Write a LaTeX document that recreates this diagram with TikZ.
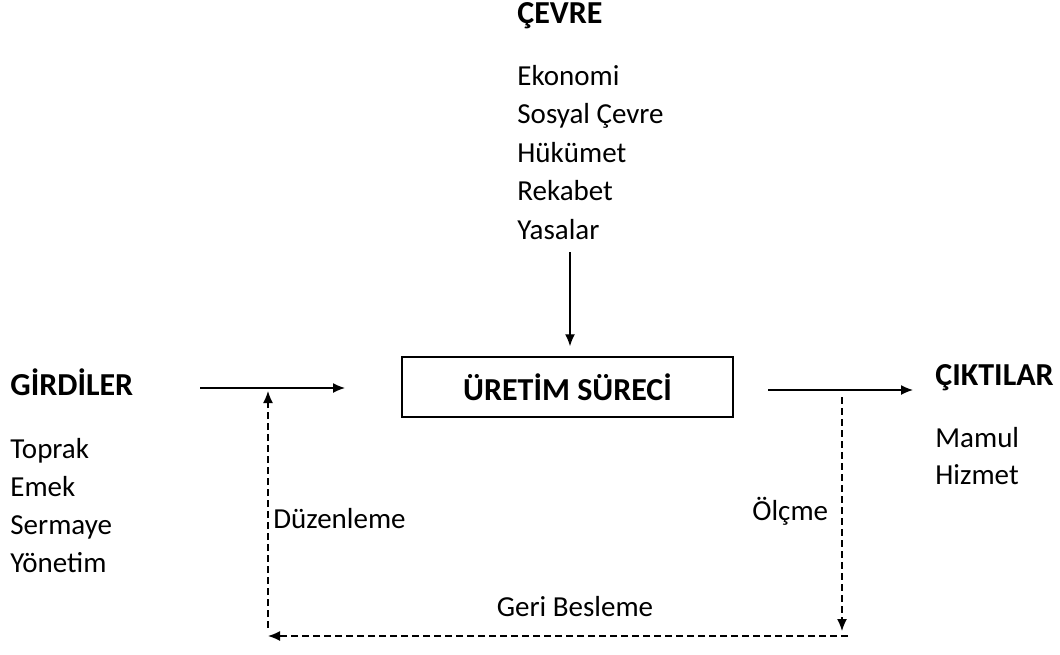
\documentclass[tikz,border=0pt]{standalone}
\usepackage{fontspec}
\setmainfont{Carlito}
\usetikzlibrary{arrows.meta}
\usetikzlibrary{positioning}

\tikzset{
  item/.style={anchor=base west,inner sep=0pt,font=\fontsize{14.5}{17}\selectfont},
  head/.style={anchor=base west,inner sep=0pt,font=\fontsize{16}{19}\selectfont\bfseries},
  process/.style={rectangle,draw=black,line width=0.75pt,minimum width=165.5pt,minimum height=30pt,font=\fontsize{16}{19}\selectfont\bfseries},
  flow/.style={-{Latex[length=6pt,width=5pt]},line width=0.7pt},
  feedback/.style={-{Latex[length=6pt,width=5pt]},line width=0.7pt,dash pattern=on 3.5pt off 2pt},
}

\begin{document}
\begin{tikzpicture}[x=0.5pt,y=-0.5pt]
\useasboundingbox (0,0) rectangle (1060,654);
% cevre
\node[head] at (517,23)(cevre){ÇEVRE};
\foreach \t [count=\i] in {Ekonomi,Sosyal Çevre,Hükümet,Rekabet,Yasalar}
  \node[item] at (517,46.5+38.5*\i)(cevre\i){\t};
% girdiler
\node[head] at (10,395)(girdiler){GİRDİLER};
\foreach \t [count=\i] in {Toprak,Emek,Sermaye,Yönetim}
  \node[item] at (10,419.7+38.3*\i)(girdi\i){\t};
% ciktilar
\node[head] at (935,385)(ciktilar){ÇIKTILAR};
\node[item] at (935,447)(cikti1){Mamul};
\node[item] at (935,484)(cikti2){Hizmet};
% surec
\node[process] at (567.5,387)(uretim){ÜRETİM SÜRECİ};
% arrows
\coordinate (cevreout) at (570,252);
\coordinate (girdiA) at (200,388);
\coordinate (girdiB) at (345,388);
\coordinate (ciktiA) at (768,390);
\coordinate (ciktiB) at (913,390);
\draw[flow,shorten >=5pt] (cevreout) -- (cevreout |- uretim.north);
\draw[flow] (girdiA) -- (girdiB);
\draw[flow] (ciktiA) -- (ciktiB);
% geri besleme
\coordinate (olcA) at (842,397);
\coordinate (olcB) at (842,631);
\coordinate (geriA) at (848,636);
\coordinate (geriB) at (268,636);
\coordinate (duzA) at (268,628);
\coordinate (duzB) at (268,391);
\draw[feedback] (olcA) -- (olcB);
\draw[feedback] (geriA) -- (geriB);
\draw[feedback] (duzA) -- (duzB);
\node[item] at (273,528)(duzenleme){Düzenleme};
\node[item] at (752,520)(olcme){Ölçme};
\node[item,anchor=base] at (575,616)(geri){Geri Besleme};
\end{tikzpicture}
\end{document}
